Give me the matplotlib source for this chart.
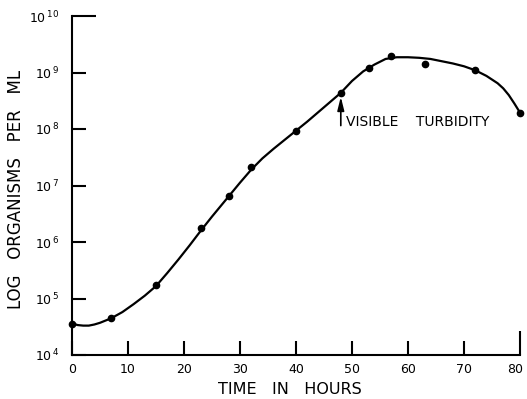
import math
import matplotlib
matplotlib.use('Agg')
import matplotlib.pyplot as plt
import matplotlib.transforms as mtransforms
from matplotlib.ticker import FixedLocator, FuncFormatter, NullLocator

# measured counts (hours, organisms per ml)
hours = [0, 7, 15, 23, 28, 32, 40, 48, 53, 57, 63, 72, 80]
counts = [3.5e4, 4.5e4, 1.75e5, 1.75e6, 6.5e6, 2.15e7, 9.2e7,
          4.4e8, 1.18e9, 1.95e9, 1.4e9, 1.1e9, 1.95e8]

# hand-drawn growth curve (log10 values)
curve_hours = [0, 1, 2, 3, 4, 5, 7, 9, 11, 13, 15, 17, 19, 21, 23, 25,
               28, 30, 32, 34, 36, 38, 40, 42, 44, 46, 48, 50, 52, 54,
               56, 58, 60, 62, 64, 66, 68, 70, 72, 74, 76, 77, 78, 79, 80]
curve_log = [4.56, 4.53, 4.52, 4.52, 4.54, 4.57, 4.65, 4.76, 4.90, 5.05,
             5.22, 5.45, 5.69, 5.94, 6.20, 6.45, 6.81, 7.05, 7.28, 7.48,
             7.65, 7.81, 7.97, 8.13, 8.30, 8.47, 8.64, 8.85, 9.02, 9.14,
             9.24, 9.27, 9.27, 9.26, 9.24, 9.20, 9.16, 9.11, 9.04, 8.94,
             8.81, 8.72, 8.60, 8.45, 8.29]

x_ticks = [0, 10, 20, 30, 40, 50, 60, 70, 80]
y_exponents = [4, 5, 6, 7, 8, 9, 10]

plt.rcParams['font.family'] = ['DejaVu Sans']

fig = plt.figure(figsize=(5.27, 3.99), dpi=100)
ax = fig.add_axes([72 / 527, 1 - 355 / 399, 448 / 527, 339 / 399])

curve_vals = [10 ** v for v in curve_log]
ax.plot(curve_hours, curve_vals, color='black', lw=1.6, solid_capstyle='round')
ax.plot(hours, counts, 'o', color='black', ms=4.5, clip_on=False)

ax.set_yscale('log')
ax.set_xlim(0, 80)
ax.set_ylim(1e4, 1e10)

for side in ['top', 'right']:
    ax.spines[side].set_visible(False)
for side in ['left', 'bottom']:
    ax.spines[side].set_linewidth(1.5)

ax.xaxis.set_major_locator(FixedLocator(x_ticks))
ax.yaxis.set_major_locator(FixedLocator([10.0 ** e for e in y_exponents]))
ax.yaxis.set_minor_locator(NullLocator())
ax.yaxis.set_major_formatter(
    FuncFormatter(lambda v, pos: r'$\mathregular{10^{\,%d}}$' % round(math.log10(v))))

ax.tick_params(axis='both', direction='in', length=10, width=1.5, labelsize=9)
ax.tick_params(axis='x', pad=6)
ax.tick_params(axis='y', pad=9)

ax.yaxis.get_major_ticks()[-1].tick1line.set_markersize(17)
ax.xaxis.get_major_ticks()[-1].tick1line.set_markersize(17)

# nudge the last x label left like the original
last = ax.get_xticklabels()[-1]
last.set_transform(last.get_transform() +
                   mtransforms.ScaledTranslation(-5 / 100, 0, fig.dpi_scale_trans))

ax.set_xlabel('TIME   IN   HOURS', fontsize=11.5)
ax.xaxis.label.set_va('baseline')
ax.xaxis.set_label_coords(0.487, -0.115)
ax.set_ylabel('LOG   ORGANISMS   PER   ML', fontsize=12)
ax.yaxis.label.set_va('center')
ax.yaxis.set_label_coords(-0.125, 0.487)

ax.annotate('', xy=(48, 4.4e8), xytext=(48, 1.15e8),
            arrowprops=dict(arrowstyle='-|>,head_width=0.2,head_length=0.8',
                            color='black', lw=1.2, mutation_scale=10,
                            shrinkA=0, shrinkB=3))
ax.text(49, 1.15e8, 'VISIBLE    TURBIDITY', fontsize=10, va='baseline', ha='left')

fig.savefig('out.png', dpi=100, facecolor='white')
